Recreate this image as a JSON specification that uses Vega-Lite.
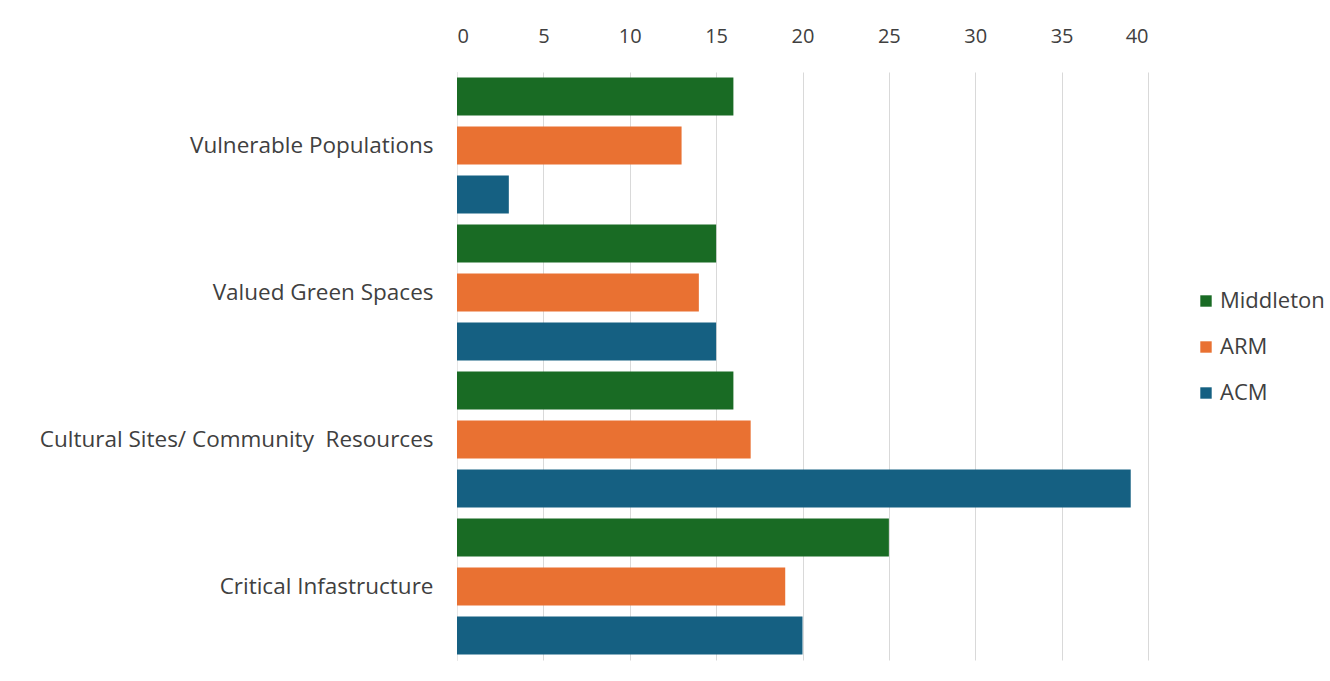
{
  "$schema": "https://vega.github.io/schema/vega-lite/v6.json",
  "width": 691,
  "height": 588,
  "autosize": {"type": "none"},
  "padding": {"left": 457, "top": 72, "right": 182, "bottom": 21},
  "background": "white",
  "data": {
    "values": [
      {"category": "Vulnerable Populations", "series": "Middleton", "value": 16},
      {"category": "Vulnerable Populations", "series": "ARM", "value": 13},
      {"category": "Vulnerable Populations", "series": "ACM", "value": 3},
      {"category": "Valued Green Spaces", "series": "Middleton", "value": 15},
      {"category": "Valued Green Spaces", "series": "ARM", "value": 14},
      {"category": "Valued Green Spaces", "series": "ACM", "value": 15},
      {"category": "Cultural Sites/ Community\u00a0 Resources", "series": "Middleton", "value": 16},
      {"category": "Cultural Sites/ Community\u00a0 Resources", "series": "ARM", "value": 17},
      {"category": "Cultural Sites/ Community\u00a0 Resources", "series": "ACM", "value": 39},
      {"category": "Critical Infastructure", "series": "Middleton", "value": 25},
      {"category": "Critical Infastructure", "series": "ARM", "value": 19},
      {"category": "Critical Infastructure", "series": "ACM", "value": 20}
    ]
  },
  "mark": {"type": "bar"},
  "encoding": {
    "y": {
      "field": "category",
      "type": "nominal",
      "sort": null,
      "title": null,
      "scale": {"paddingInner": 0, "paddingOuter": 0},
      "axis": {
        "labelFont": "Open Sans",
        "labelFontSize": 22.5,
        "labelColor": "#404040",
        "labelPadding": 24,
        "ticks": false,
        "domain": true,
        "domainColor": "#e6e6e6",
        "labelLimit": 500
      }
    },
    "yOffset": {
      "field": "series",
      "type": "nominal",
      "sort": ["Middleton", "ARM", "ACM"],
      "scale": {"paddingInner": 0.22, "paddingOuter": 0.11}
    },
    "x": {
      "field": "value",
      "type": "quantitative",
      "title": null,
      "scale": {"domain": [0, 40], "nice": false},
      "axis": {
        "orient": "top",
        "values": [0, 5, 10, 15, 20, 25, 30, 35, 40],
        "labelFont": "Open Sans",
        "labelFontSize": 20,
        "labelColor": "#404040",
        "labelPadding": 26,
        "ticks": false,
        "domain": false,
        "grid": true,
        "gridColor": "#d9d9d9",
        "gridWidth": 1
      }
    },
    "color": {
      "field": "series",
      "type": "nominal",
      "sort": ["Middleton", "ARM", "ACM"],
      "scale": {"domain": ["Middleton", "ARM", "ACM"], "range": ["#196B24", "#E97132", "#156082"]},
      "legend": {
        "title": null,
        "orient": "none",
        "legendX": 738,
        "legendY": 218,
        "symbolType": "square",
        "symbolSize": 130,
        "symbolStrokeWidth": 0,
        "labelFont": "Open Sans",
        "labelFontSize": 22,
        "labelColor": "#404040",
        "rowPadding": 24,
        "labelOffset": 3
      }
    }
  },
  "config": {"view": {"stroke": null}}
}
